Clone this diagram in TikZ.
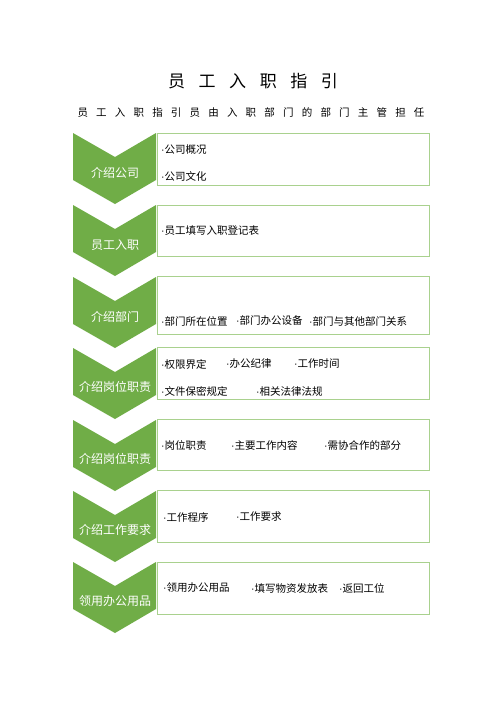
\documentclass[tikz,border=0pt]{standalone}
\usepackage{fontspec}
\setmainfont{Noto Sans CJK SC}
\newfontfamily\latinfont{Liberation Sans}
\newcommand{\itemdot}{{\latinfont ·}}
\definecolor{stepgreen}{HTML}{70AD47}
\definecolor{boxgreen}{HTML}{A9D18E}
\begin{document}
\begin{tikzpicture}[
        x=1pt, y=-1pt,
        font=\fontsize{10.5}{12}\selectfont
    ]
    \tikzset{
        chev/.style = {fill=stepgreen, draw=none},
        chevlabel/.style = {text=white, font=\fontsize{12}{14}\selectfont, inner sep=0pt},
        itembox/.style = {draw=boxgreen, line width=1pt, fill=white},
        item/.style = {anchor=west, inner sep=0pt, text=black},
    }
    \useasboundingbox[fill=white] (0,0) rectangle (500,707);
    % title
    \node[font=\fontsize{17}{20}\selectfont\addfontfeature{LetterSpace=80}] (title) at (253,81) {员工入职指引};
    \node[font=\fontsize{10.5}{12}\selectfont\addfontfeature{LetterSpace=78}] (sub) at (251,113) {员工入职指引员由入职部门的部门主管担任};
    %
    \draw[itembox] (157,133) rectangle (429,185);
    \draw[itembox] (157,205) rectangle (429,256);
    \draw[itembox] (157,276) rectangle (429,334);
    \draw[itembox] (157,347) rectangle (429,399);
    \draw[itembox] (157,419) rectangle (429,470);
    \draw[itembox] (157,490) rectangle (429,542);
    \draw[itembox] (157,562) rectangle (429,614);
    %
    \fill[chev] (73,133) -- (115,157) -- (156,133) -- (156,180) -- (115,204) -- (73,180) -- cycle;
    \fill[chev] (73,205) -- (115,229) -- (156,205) -- (156,252) -- (115,276) -- (73,252) -- cycle;
    \fill[chev] (73,277) -- (115,301) -- (156,277) -- (156,324) -- (115,348) -- (73,324) -- cycle;
    \fill[chev] (73,348) -- (115,372) -- (156,348) -- (156,395) -- (115,419) -- (73,395) -- cycle;
    \fill[chev] (73,420) -- (115,444) -- (156,420) -- (156,467) -- (115,491) -- (73,467) -- cycle;
    \fill[chev] (73,491) -- (115,515) -- (156,491) -- (156,538) -- (115,562) -- (73,538) -- cycle;
    \fill[chev] (73,562) -- (115,586) -- (156,562) -- (156,609) -- (115,633) -- (73,609) -- cycle;
    %
    \node[chevlabel] (s1) at (115,173) {介绍公司};
    \node[chevlabel] (s2) at (115,245) {员工入职};
    \node[chevlabel] (s3) at (115,317) {介绍部门};
    \node[chevlabel] (s4) at (115,387) {介绍岗位职责};
    \node[chevlabel] (s5) at (115,459) {介绍岗位职责};
    \node[chevlabel] (s6) at (115,530) {介绍工作要求};
    \node[chevlabel] (s7) at (115,601) {领用办公用品};
    %
    \node[item] (a1) at (161,150) {\itemdot 公司概况};
    \node[item] (a2) at (161,176) {\itemdot 公司文化};
    %
    \node[item] (b1) at (161,231) {\itemdot 员工填写入职登记表};
    %
    \node[item] (c1) at (161,321) {\itemdot 部门所在位置};
    \node[item] (c2) at (236,321) {\itemdot 部门办公设备};
    \node[item] (c3) at (309,321) {\itemdot 部门与其他部门关系};
    %
    \node[item] (d1) at (161,364) {\itemdot 权限界定};
    \node[item] (d2) at (226,364) {\itemdot 办公纪律};
    \node[item] (d3) at (294,364) {\itemdot 工作时间};
    \node[item] (d4) at (161,391) {\itemdot 文件保密规定};
    \node[item] (d5) at (256,391) {\itemdot 相关法律法规};
    %
    \node[item] (e1) at (161,445) {\itemdot 岗位职责};
    \node[item] (e2) at (231,445) {\itemdot 主要工作内容};
    \node[item] (e3) at (324,445) {\itemdot 需协合作的部分};
    %
    \node[item] (f1) at (163,517) {\itemdot 工作程序};
    \node[item] (f2) at (236,517) {\itemdot 工作要求};
    %
    \node[item] (g1) at (163,588) {\itemdot 领用办公用品};
    \node[item] (g2) at (251,588) {\itemdot 填写物资发放表};
    \node[item] (g3) at (339,588) {\itemdot 返回工位};
\end{tikzpicture}
\end{document}
